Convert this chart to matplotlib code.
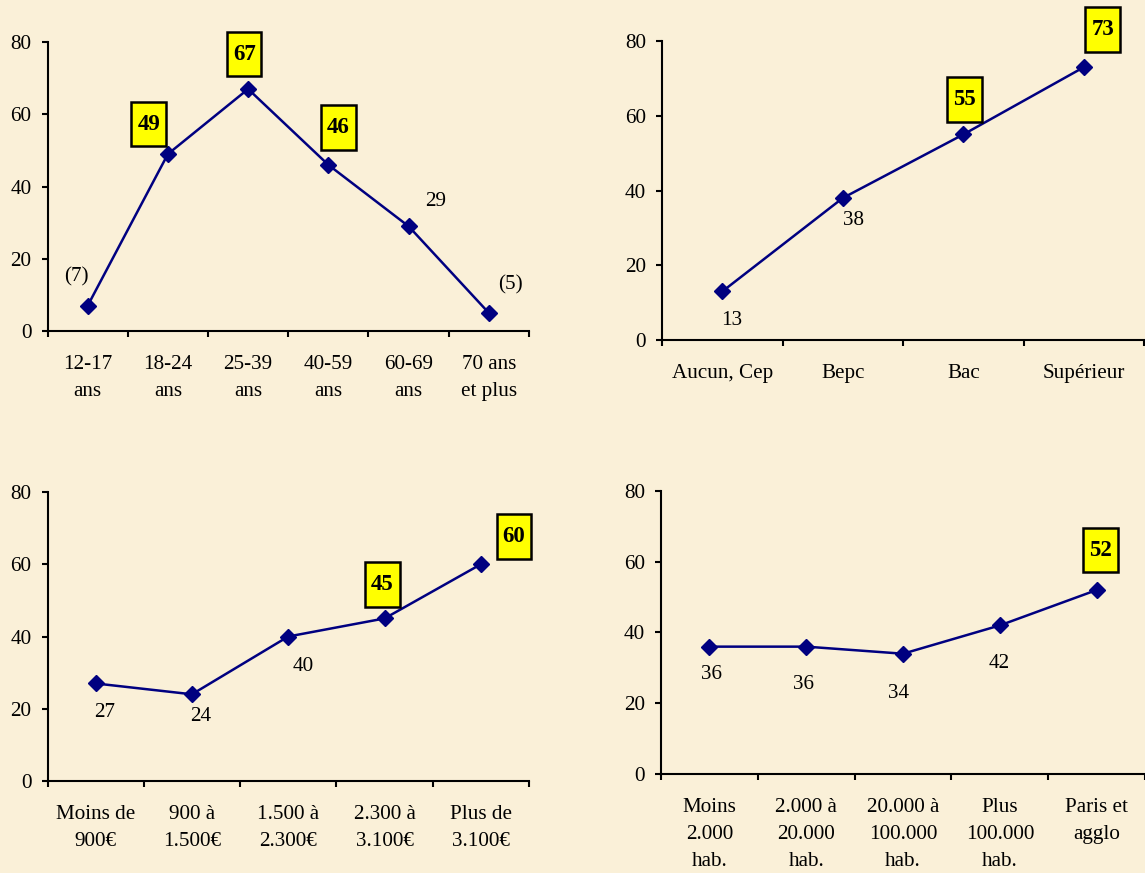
import numpy as np
import matplotlib
matplotlib.use("Agg")
import matplotlib.pyplot as plt
from matplotlib.path import Path

# === données ===
age_cats = ["12-17\nans", "18-24\nans", "25-39\nans", "40-59\nans", "60-69\nans", "70 ans\net plus"]
age_vals = [7, 49, 67, 46, 29, 5]
age_boxed = [False, True, True, True, False, False]
age_paren = [True, False, False, False, False, True]

dipl_cats = ["Aucun, Cep", "Bepc", "Bac", "Supérieur"]
dipl_vals = [13, 38, 55, 73]
dipl_boxed = [False, False, True, True]
dipl_paren = [False, False, False, False]

rev_cats = ["Moins de\n900€", "900 à\n1.500€", "1.500 à\n2.300€", "2.300 à\n3.100€", "Plus de\n3.100€"]
rev_vals = [27, 24, 40, 45, 60]
rev_boxed = [False, False, False, True, True]
rev_paren = [False, False, False, False, False]

agglo_cats = ["Moins\n2.000\nhab.", "2.000 à\n20.000\nhab.", "20.000 à\n100.000\nhab.",
              "Plus\n100.000\nhab.", "Paris et\nagglo"]
agglo_vals = [36, 36, 34, 42, 52]
agglo_boxed = [False, False, False, False, True]
agglo_paren = [False, False, False, False, False]

yticks = [0, 20, 40, 60, 80]

# décalages des étiquettes (pixels, x vers la droite, y vers le haut)
age_off = [(-11, 29), (-19, 30), (-4, 35), (10, 37), (27, 25), (22, 28)]
dipl_off = [(9, -29), (11, -22), (1, 35), (19, 38)]
rev_off = [(9, -29), (9, -22), (15, -30), (-2, 34), (33, 28)]
agglo_off = [(2, -28), (-3, -38), (-4, -40), (-1, -38), (4, 40)]

BG = "#FAF0D8"
NAVY = "#000080"
plt.rcParams["font.family"] = ["Liberation Serif", "DejaVu Serif"]
plt.rcParams["font.size"] = 15.2


def label_box(x0, y0, width, height, mutation_size):
    # cadre jaune plus haut que large, comme dans Excel
    padx = 0.26 * mutation_size
    pady = 0.52 * mutation_size
    x0, y0 = x0 - padx, y0 - pady
    x1, y1 = x0 + width + 2 * padx, y0 + height + 2 * pady
    return Path([(x0, y0), (x1, y0), (x1, y1), (x0, y1), (x0, y0)], closed=True)


def panel(rect, cats, vals, boxed, paren, offs):
    ax = fig.add_axes(rect)
    ax.set_facecolor("none")
    n = len(cats)
    x = np.arange(n)
    ax.plot(x, vals, color=NAVY, lw=1.8, marker="D", ms=8, mfc=NAVY, mec=NAVY,
            clip_on=False, zorder=3)
    ax.set_xlim(-0.5, n - 0.5)
    ax.set_ylim(0, 80)
    ax.set_yticks(yticks)
    ax.set_xticks(np.arange(n + 1) - 0.5)
    ax.set_xticklabels([])
    ax.set_xticks(x, cats, minor=True)
    ax.tick_params(axis="x", which="minor", length=0, pad=17)
    ax.tick_params(axis="x", which="major", length=4.5, width=1.5, direction="out")
    ax.tick_params(axis="y", length=4.5, width=1.5, direction="out", pad=7)
    for lab in ax.get_xticklabels(minor=True):
        lab.set_linespacing(1.57)
    for s in ["top", "right"]:
        ax.spines[s].set_visible(False)
    for s in ["left", "bottom"]:
        ax.spines[s].set_linewidth(1.5)
    for i, v in enumerate(vals):
        txt = f"({v})" if paren[i] else str(v)
        kw = {}
        if boxed[i]:
            kw = dict(fontweight="bold", fontsize=16.5,
                      bbox=dict(boxstyle=label_box, fc="#FFFF00", ec="black", lw=1.8))
        ax.annotate(txt, (i, v), xytext=offs[i], textcoords="offset pixels",
                    ha="center", va="center", zorder=4, annotation_clip=False, **kw)
    return ax


fig = plt.figure(figsize=(11.45, 8.73), dpi=100)
fig.patch.set_facecolor(BG)

panel([0.0415, 0.6208, 0.4205, 0.3310], age_cats, age_vals, age_boxed, age_paren, age_off)
panel([0.5782, 0.6105, 0.4210, 0.3425], dipl_cats, dipl_vals, dipl_boxed, dipl_paren, dipl_off)
panel([0.0415, 0.1054, 0.4205, 0.3310], rev_cats, rev_vals, rev_boxed, rev_paren, rev_off)
panel([0.5773, 0.1134, 0.4227, 0.3242], agglo_cats, agglo_vals, agglo_boxed, agglo_paren, agglo_off)

fig.savefig("out.png", dpi=100, facecolor=BG)
